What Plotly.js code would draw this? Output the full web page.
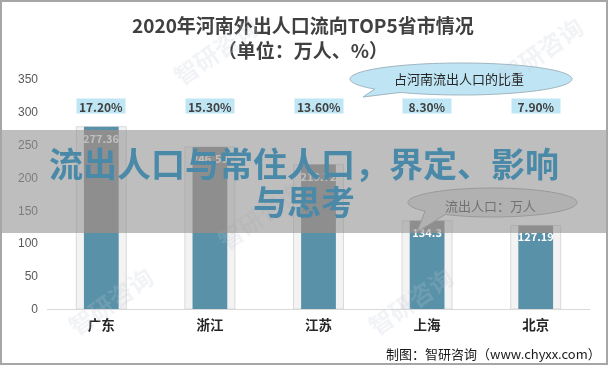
<!DOCTYPE html>
<html>
<head>
<meta charset="utf-8">
<script src="https://cdn.plot.ly/plotly-3.0.1.min.js"></script>
<style>
  html, body { margin: 0; padding: 0; background: #ffffff; }
  #wrap { position: relative; width: 608px; height: 365px; overflow: hidden; }
  #chart { position: absolute; left: 0; top: 0; width: 608px; height: 365px; }
  #banner {
    position: absolute; left: 0; top: 130px; width: 608px; height: 103px;
    backdrop-filter: grayscale(1) contrast(0.37) brightness(1.09);
    -webkit-backdrop-filter: grayscale(1) contrast(0.37) brightness(1.09);
    pointer-events: none; z-index: 5; box-sizing: border-box; padding-top: 14px;
    text-align: center; font-family: "Noto Sans CJK SC", "Noto Sans", sans-serif;
    font-weight: 700; font-size: 34px; line-height: 38px; color: #4a8aa8;
  }
  #frame {
    position: absolute; left: 0; top: 0; width: 608px; height: 365px;
    box-sizing: border-box; border: 2px solid #a6a6a6; pointer-events: none; z-index: 6;
  }
</style>
</head>
<body>
<div id="wrap">
  <div id="chart"></div>
  <div id="banner">流出人口与常住人口，界定、影响<br>与思考</div>
  <div id="frame"></div>
</div>
<script>
// ---- data ----
const categories = ['广东', '浙江', '江苏', '上海', '北京'];
const outflow = [277.36, 246.59, 219.72, 134.3, 127.19];   // 万人
const share = [17.2, 15.3, 13.6, 8.3, 7.9];                  // %
const titleText = '2020年河南外出人口流向TOP5省市情况<br>（单位：万人、%）';
const shareNote = '占河南流出人口的比重';
const valueNote = '流出人口：万人';
const sourceText = '制图：智研咨询（www.chyxx.com）';

// ---- geometry helpers (pixel -> paper) ----
const W = 608, H = 365, ML = 47, MR = 18, MT = 79, MB = 56;
const PW = W - ML - MR, PH = H - MT - MB;
const px = x => (x - ML) / PW;
const py = y => (H - MB - y) / PH;

function callout(cx, cy, rx, ry, a0, a1, tipx, tipy) {
  const pts = [];
  const start = a0, end = a1 + 360;
  const n = 90;
  for (let i = 0; i <= n; i++) {
    const t = (start + (end - start) * i / n) * Math.PI / 180;
    pts.push([cx + rx * Math.cos(t), cy + ry * Math.sin(t)]);
  }
  let d = 'M ' + px(pts[0][0]).toFixed(5) + ',' + py(pts[0][1]).toFixed(5);
  for (let i = 1; i < pts.length; i++) d += ' L ' + px(pts[i][0]).toFixed(5) + ',' + py(pts[i][1]).toFixed(5);
  d += ' L ' + px(tipx).toFixed(5) + ',' + py(tipy).toFixed(5) + ' Z';
  return d;
}

const CJK = '"Noto Sans CJK SC", "Noto Sans", sans-serif';

const outer = {
  type: 'bar', x: categories, y: outflow, width: 0.46,
  marker: { color: '#f3f3f3', line: { color: '#d9d9d9', width: 1 } },
  hoverinfo: 'skip', showlegend: false
};
const inner = {
  type: 'bar', x: categories, y: outflow, width: 0.32,
  marker: { color: '#5891a8', line: { width: 0 } },
  text: outflow.map(v => String(v)),
  textposition: 'inside', insidetextanchor: 'end', constraintext: 'none', textangle: 0,
  textfont: { family: CJK, size: 11, color: '#ffffff', weight: 700 },
  insidetextfont: { family: CJK, size: 11, color: '#ffffff', weight: 700 },
  showlegend: false, hoverinfo: 'skip'
};

const annotations = [];
annotations.push({
  xref: 'paper', yref: 'paper', x: px(303), y: py(37), xanchor: 'center', yanchor: 'middle',
  text: titleText, showarrow: false,
  font: { family: CJK, size: 19, color: '#404040', weight: 700 }
});
categories.forEach((c, i) => {
  annotations.push({
    xref: 'x', yref: 'paper', x: c, y: py(106), xanchor: 'center', yanchor: 'middle',
    text: share[i].toFixed(2) + '%', showarrow: false,
    bgcolor: '#bee6f5', width: 48, height: 14, borderpad: 0,
    font: { family: CJK, size: 12, color: '#404040', weight: 700 }
  });
});
annotations.push({
  xref: 'paper', yref: 'paper', x: px(459), y: py(78), xanchor: 'center', yanchor: 'middle',
  text: shareNote, showarrow: false,
  font: { family: CJK, size: 13, color: '#262626' }
});
annotations.push({
  xref: 'paper', yref: 'paper', x: px(490), y: py(205), xanchor: 'center', yanchor: 'middle',
  text: valueNote, showarrow: false,
  font: { family: CJK, size: 13, color: '#404040' }
});
annotations.push({
  xref: 'paper', yref: 'paper', x: px(603), y: py(353), xanchor: 'right', yanchor: 'middle',
  text: sourceText, showarrow: false,
  font: { family: CJK, size: 13, color: '#1a1a1a' }
});
// faint watermarks
[[215, 50], [540, 50], [110, 300], [410, 300], [260, 215]].forEach(p => {
  annotations.push({
    xref: 'paper', yref: 'paper', x: px(p[0]), y: py(p[1]), xanchor: 'center', yanchor: 'middle',
    text: '智研咨询', showarrow: false, textangle: -35,
    font: { family: CJK, size: 24, color: 'rgba(190,200,215,0.22)', weight: 700 }
  });
});

const shapes = [
  { type: 'path', xref: 'paper', yref: 'paper', layer: 'above',
    path: callout(461, 79, 111, 16, 141, 123, 363, 97),
    fillcolor: '#bfe5f5', line: { color: '#9fb5c0', width: 1 } },
  { type: 'path', xref: 'paper', yref: 'paper', layer: 'above',
    path: callout(492.5, 202.5, 84.5, 14.5, 143, 124, 417, 232),
    fillcolor: '#bfe5f5', line: { color: '#8fa5b0', width: 1 } }
];

const layout = {
  width: W, height: H,
  margin: { l: ML, r: MR, t: MT, b: MB, pad: 0 },
  paper_bgcolor: '#ffffff', plot_bgcolor: '#ffffff',
  barmode: 'overlay', showlegend: false,
  xaxis: {
    type: 'category', showgrid: false, zeroline: false,
    showline: true, linecolor: '#d9d9d9', linewidth: 1, ticks: '',
    tickfont: { family: CJK, size: 13.5, color: '#262626', weight: 700 },
    ticklabelstandoff: 4
  },
  yaxis: {
    range: [0, 350], dtick: 50, showgrid: false, zeroline: false, showline: false, ticks: '',
    tickfont: { family: '"Liberation Sans", Arial, sans-serif', size: 12, color: '#595959' },
    ticklabelstandoff: 8
  },
  annotations: annotations,
  shapes: shapes
};

Plotly.newPlot('chart', [outer, inner], layout, { staticPlot: true, displayModeBar: false });
</script>
</body>
</html>
